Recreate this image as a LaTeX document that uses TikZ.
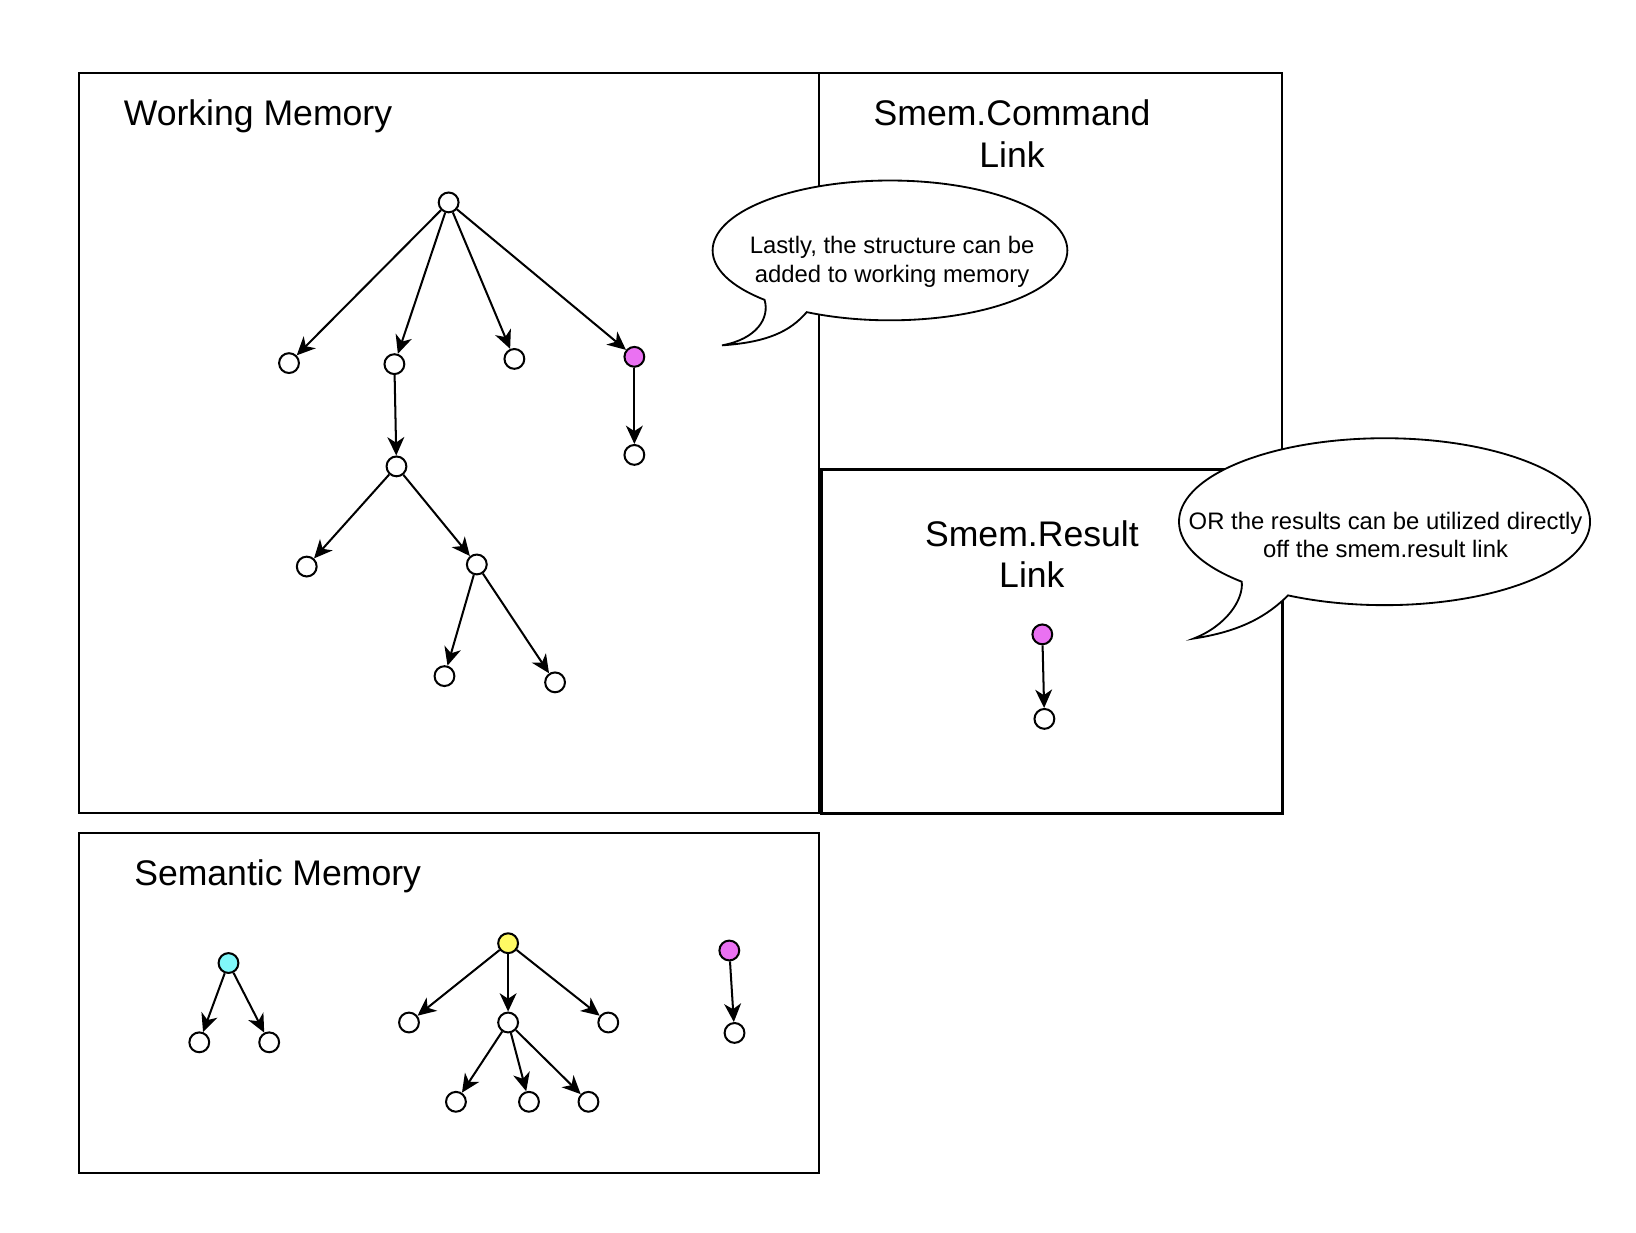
\documentclass[tikz,border=0pt]{standalone}
\usepackage{fontspec}
\setmainfont{Liberation Sans}
\usetikzlibrary{arrows.meta}
\definecolor{linkpink}{RGB}{234,113,242}
\definecolor{semcyan}{RGB}{128,248,250}
\definecolor{semyellow}{RGB}{255,250,100}
\begin{document}
\begin{tikzpicture}[x=0.01cm,y=-0.01cm,
  obj/.style={circle,draw,line width=0.55pt,fill=white,minimum size=0.19cm,inner sep=0pt},
  arr/.style={-{Stealth[length=5pt,width=4.6pt,inset=1.5pt]},line width=0.55pt},
  title/.style={font=\fontsize{9.7}{11.4}\selectfont,align=center,inner sep=0pt},
  says/.style={font=\fontsize{6.5}{7.7}\selectfont,align=center,inner sep=0pt},
  bubble/.style={draw,fill=white,line width=0.5pt}]
\useasboundingbox (0,0) rectangle (1568,1181);

\draw[line width=0.5pt] (76,70) rectangle (785,779);
\draw[line width=0.5pt] (785,70) rectangle (1229,450);
\draw[line width=0.85pt] (787,450) rectangle (1229,780);
\draw[line width=0.5pt] (76,798) rectangle (785,1124);

\draw[bubble] (853,240) ++(135:170 and 67)
  arc[start angle=135,end angle=478,x radius=170,y radius=67]
  .. controls (757,318) and (735,328) .. (692,331)
  .. controls (725,325) and (738,305) .. cycle;
\draw[bubble] (1327,500) ++(134:197 and 80)
  arc[start angle=134,end angle=478,x radius=197,y radius=80]
  .. controls (1215,590) and (1190,605) .. (1144,612)
  .. controls (1175,600) and (1192,575) .. cycle;

\node[title,anchor=west] (wmt) at (118,111) {Working Memory};
\node[title] (cmdt) at (970,128) {Smem.Command\\Link};
\node[title] (rest) at (989,531) {Smem.Result\\Link};
\node[title,anchor=west] (semt) at (128,840) {Semantic Memory};
\node[says] (say1) at (855,251) {Lastly, the structure can be\\added to working memory};
\node[says] (say2) at (1328,513) {OR the results can be utilized directly\\off the smem.result link};

\node[obj] (R) at (430,194) {};
\node[obj] (A1) at (277,348) {};
\node[obj] (A2) at (378,349) {};
\node[obj] (A3) at (493,344) {};
\node[obj,fill=linkpink] (A4) at (608,342) {};
\node[obj] (A5) at (608,436) {};
\node[obj] (B) at (380,447) {};
\node[obj] (B1) at (294,543) {};
\node[obj] (B2) at (457,541) {};
\node[obj] (C1) at (426,648) {};
\node[obj] (C2) at (532,654) {};

\node[obj,fill=linkpink] (P) at (999,608) {};
\node[obj] (P1) at (1001,689) {};

\node[obj,fill=semcyan] (S) at (219,923) {};
\node[obj] (S1) at (191,999) {};
\node[obj] (S2) at (258,999) {};
\node[obj,fill=semyellow] (Y) at (487,904) {};
\node[obj] (Y1) at (392,980) {};
\node[obj] (Y2) at (487,980) {};
\node[obj] (Y3) at (583,980) {};
\node[obj] (Y21) at (437,1056) {};
\node[obj] (Y22) at (507,1056) {};
\node[obj] (Y23) at (564,1056) {};
\node[obj,fill=linkpink] (M) at (699,911) {};
\node[obj] (M1) at (704,990) {};

\draw[arr] (R) -- (A1);
\draw[arr] (R) -- (A2);
\draw[arr] (R) -- (A3);
\draw[arr] (R) -- (A4);
\draw[arr] (A4) -- (A5);
\draw[arr] (A2) -- (B);
\draw[arr] (B) -- (B1);
\draw[arr] (B) -- (B2);
\draw[arr] (B2) -- (C1);
\draw[arr] (B2) -- (C2);
\draw[arr] (P) -- (P1);
\draw[arr] (S) -- (S1);
\draw[arr] (S) -- (S2);
\draw[arr] (Y) -- (Y1);
\draw[arr] (Y) -- (Y2);
\draw[arr] (Y) -- (Y3);
\draw[arr] (Y2) -- (Y21);
\draw[arr] (Y2) -- (Y22);
\draw[arr] (Y2) -- (Y23);
\draw[arr] (M) -- (M1);
\end{tikzpicture}
\end{document}
